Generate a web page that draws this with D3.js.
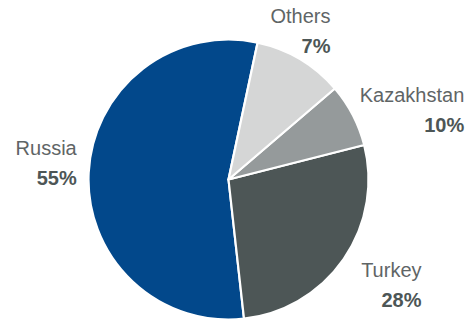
<head>
  <script src="https://cdn.jsdelivr.net/npm/d3@7"></script>
</head>
<style>
body{
    margin:0;
    background:#fff;
  }
.lbl_name{
    font: 20px "Liberation Sans", Arial, sans-serif;
    fill: #5f6566;
  }
.lbl_pct{
    font: bold 20px "Liberation Sans", Arial, sans-serif;
    fill: #4d5656;
  }
</style>
<body>
  <svg id="svg_pie"></svg>
</body>
<script>
// slice data - order as the chart was built (drawn counter clockwise)
var categories = ["Russia", "Turkey", "Kazakhstan", "Others"];
// slice sizes as they are drawn in the picture (%)
var shares = [55.1, 27.2, 7.3, 10.4];
// percent text as it is printed on the chart
var pctLabels = ["55%", "28%", "10%", "7%"];
var colors = ["#02488b", "#4d5656", "#959a9b", "#d5d6d6"];

  var w = 470;
  var h = 321;
  var cx = 228.5;
  var cy = 179.5;
  var radius = 140;
  var label_r = 180;
  var line_gap = 30;
  // little moves so the labels sit where they are in the original
  var labelShift = [[28, -16], [45, -5], [76, 5], [10, -2]];

  var deg = Math.PI / 180;

  var pie = d3.pie()
      .sort(null)
      .value(function(d){ return d.value; })
      .startAngle(372 * deg)
      .endAngle(12 * deg);

  var data_pie = categories.map(function(c, i){
    return {name: c, value: shares[i], pct: pctLabels[i], color: colors[i]};
  });

  var arcs = pie(data_pie);

  var arc = d3.arc()
      .innerRadius(0)
      .outerRadius(radius);

  var labelArc = d3.arc()
      .innerRadius(label_r)
      .outerRadius(label_r);

  var svg = d3.select("svg#svg_pie")
      .attr("width", w)
      .attr("height", h)
      .append("g")
      .attr("transform", "translate(" + cx + "," + cy + ")");

  svg.selectAll("path")
      .data(arcs)
      .enter().append("path")
      .attr("d", arc)
      .attr("fill", function(d){ return d.data.color; })
      .attr("stroke", "#fff")
      .attr("stroke-width", 2.2)
      .attr("stroke-linejoin", "round");

  var labels = svg.selectAll("g.lbl")
      .data(arcs)
      .enter().append("g")
      .attr("class", "lbl")
      .attr("transform", function(d, i){
        var c = labelArc.centroid(d);
        return "translate(" + (c[0] + labelShift[i][0]) + "," + (c[1] + labelShift[i][1]) + ")";
      });

  labels.append("text")
      .attr("class", "lbl_name")
      .attr("text-anchor", "end")
      .text(function(d){ return d.data.name; });

  labels.append("text")
      .attr("class", "lbl_pct")
      .attr("text-anchor", "end")
      .attr("y", line_gap)
      .text(function(d){ return d.data.pct; });
</script>
